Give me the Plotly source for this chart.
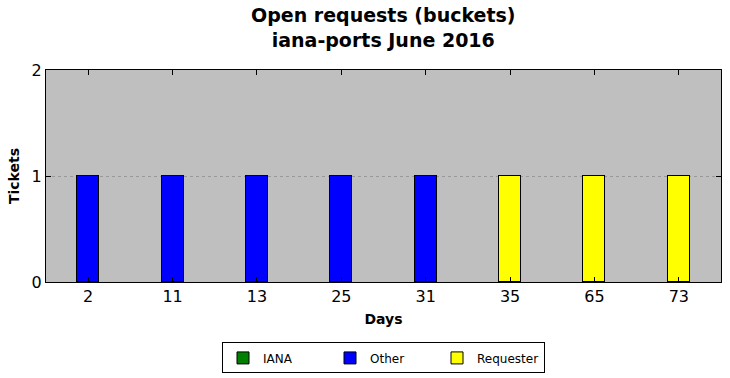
import plotly.graph_objects as go

days = ["2", "11", "13", "25", "31", "35", "65", "73"]
iana = [0, 0, 0, 0, 0, 0, 0, 0]
other = [1, 1, 1, 1, 1, 0, 0, 0]
requester = [0, 0, 0, 0, 0, 1, 1, 1]

font = "DejaVu Sans"
fig = go.Figure()
for name, vals, col in [("IANA", iana, "green"), ("Other", other, "blue"), ("Requester", requester, "yellow")]:
    fig.add_trace(go.Bar(x=days, y=vals, name=name, width=0.26,
                         marker=dict(color=col, line=dict(color="black", width=1))))

fig.update_layout(
    width=730, height=378,
    barmode="stack",
    paper_bgcolor="white", plot_bgcolor="#bfbfbf",
    margin=dict(l=46, r=9, t=70, b=96, autoexpand=False),
    font=dict(family=font, color="black"),
    legend=dict(orientation="h", x=0.5, xanchor="center", y=-0.285, yanchor="top",
                bordercolor="black", borderwidth=1, font=dict(size=12, family=font),
                bgcolor="white", itemwidth=30, traceorder="normal",
                tracegroupgap=0, entrywidth=62),
    bargap=0,
)
fig.add_annotation(text="<b>Open requests (buckets)<br>iana-ports June 2016</b>",
                   xref="paper", yref="paper", x=0.5, y=1, xanchor="center", yanchor="bottom",
                   yshift=17, showarrow=False, font=dict(size=19, family=font))
fig.update_xaxes(type="category", range=[-0.5, 7.5], showline=True, linecolor="black", linewidth=1,
                 mirror="ticks", ticks="inside", ticklen=5, tickcolor="black",
                 tickfont=dict(size=16), showgrid=False,
                 title=dict(text="<b>Days</b>", font=dict(size=14), standoff=8))
fig.update_yaxes(range=[0, 2], tickvals=[0, 1, 2], showline=True, linecolor="black", linewidth=1,
                 mirror="ticks", ticks="inside", ticklen=5, tickcolor="black",
                 tickfont=dict(size=16), showgrid=True, gridcolor="#999999", griddash="dot", gridwidth=1,
                 zeroline=False,
                 title=dict(text="<b>Tickets</b>", font=dict(size=14), standoff=8))
fig.write_html("out.html")
